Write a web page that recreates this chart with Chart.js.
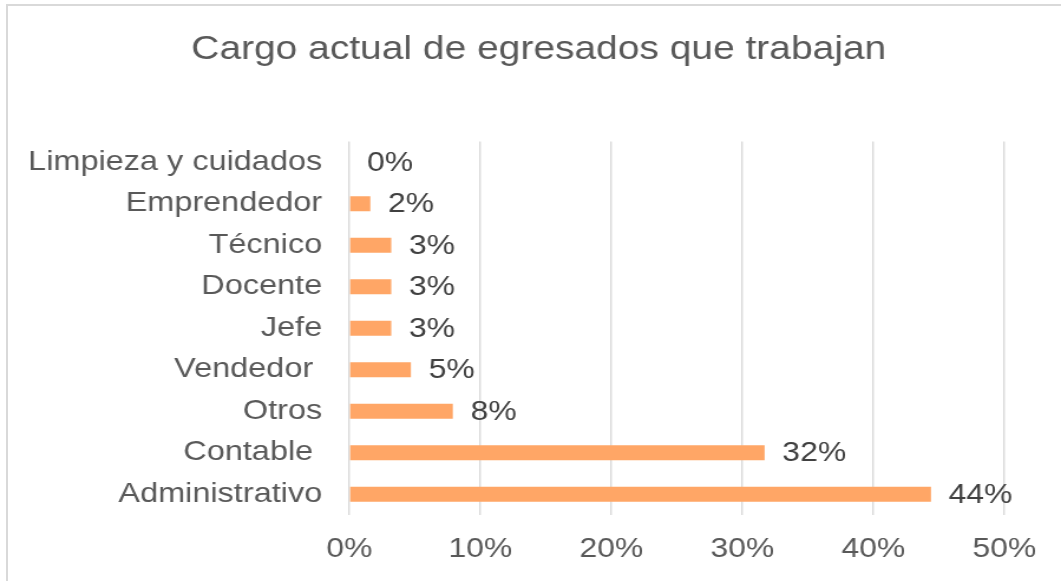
<!DOCTYPE html>
<html>
<head>
<meta charset="utf-8">
<script src="https://cdn.jsdelivr.net/npm/chart.js@4/dist/chart.umd.min.js"></script>
<style>
  body { margin: 0; background: #fff; overflow: hidden; }
  #wrap { position: absolute; left: 0; top: 0; width: 899px; height: 581px; transform: scaleX(1.1802); transform-origin: 0 0; }
  .edge { position: absolute; background: #d9d9d9; }
</style>
</head>
<body>
<div class="edge" style="left:6px;top:4px;width:1055px;height:2px"></div>
<div class="edge" style="left:6px;top:4px;width:2px;height:577px"></div>
<div id="wrap"><canvas id="chart" width="899" height="581"></canvas></div>
<script>
const cargos = ['Limpieza y cuidados', 'Emprendedor', 'Técnico', 'Docente', 'Jefe', 'Vendedor ', 'Otros', 'Contable ', 'Administrativo'];
const porcentajes = [0, 1.6, 3.2, 3.2, 3.2, 4.7, 7.9, 31.7, 44.4];
const ticksX = [0, 10, 20, 30, 40, 50];

const FONT = '"Liberation Sans", Arial, sans-serif';

// etiquetas de valor al final de cada barra
const valueLabels = {
    id: 'valueLabels',
    afterLayout(chart) {
        // el título del original está un poco desplazado a la derecha
        chart.titleBlock.left += 24;
        chart.titleBlock.right += 24;
    },
    afterDatasetsDraw(chart) {
        const ctx = chart.ctx;
        const meta = chart.getDatasetMeta(0);
        ctx.save();
        ctx.font = '27px ' + FONT;
        ctx.fillStyle = '#404040';
        ctx.textAlign = 'left';
        ctx.textBaseline = 'middle';
        meta.data.forEach((bar, i) => {
            ctx.fillText(Math.round(porcentajes[i]) + '%', bar.x + 15, bar.y + 1);
        });
        ctx.restore();
    }
};

const ctx = document.getElementById('chart').getContext('2d');
new Chart(ctx, {
    type: 'bar',
    data: {
        labels: cargos,
        datasets: [{
            data: porcentajes,
            backgroundColor: '#FFA666',
            categoryPercentage: 1,
            barPercentage: 0.36
        }]
    },
    options: {
        indexAxis: 'y',
        responsive: false,
        animation: false,
        devicePixelRatio: 1,
        layout: { padding: { left: 14, right: 48, top: 0, bottom: 0 } },
        plugins: {
            legend: { display: false },
            tooltip: { enabled: false },
            title: {
                display: true,
                text: 'Cargo actual de egresados que trabajan',
                color: '#595959',
                font: { family: FONT, size: 33, weight: 'normal' },
                padding: { top: 30, bottom: 72 }
            }
        },
        scales: {
            x: {
                min: 0,
                max: 50,
                afterBuildTicks(scale) {
                    scale.ticks = ticksX.map(v => ({ value: v }));
                },
                afterFit(scale) { scale.height = 66; },
                grid: { color: '#d9d9d9', lineWidth: 1.4, drawTicks: false },
                border: { display: false },
                ticks: {
                    color: '#595959',
                    font: { family: FONT, size: 27 },
                    padding: 18,
                    maxRotation: 0,
                    callback: v => v + '%'
                }
            },
            y: {
                afterFit(scale) { scale.width = 282; },
                grid: { display: false, drawTicks: false },
                border: { display: false },
                ticks: {
                    color: '#595959',
                    font: { family: FONT, size: 27.5 },
                    padding: 23,
                    autoSkip: false
                }
            }
        }
    },
    plugins: [valueLabels]
});
</script>
</body>
</html>
